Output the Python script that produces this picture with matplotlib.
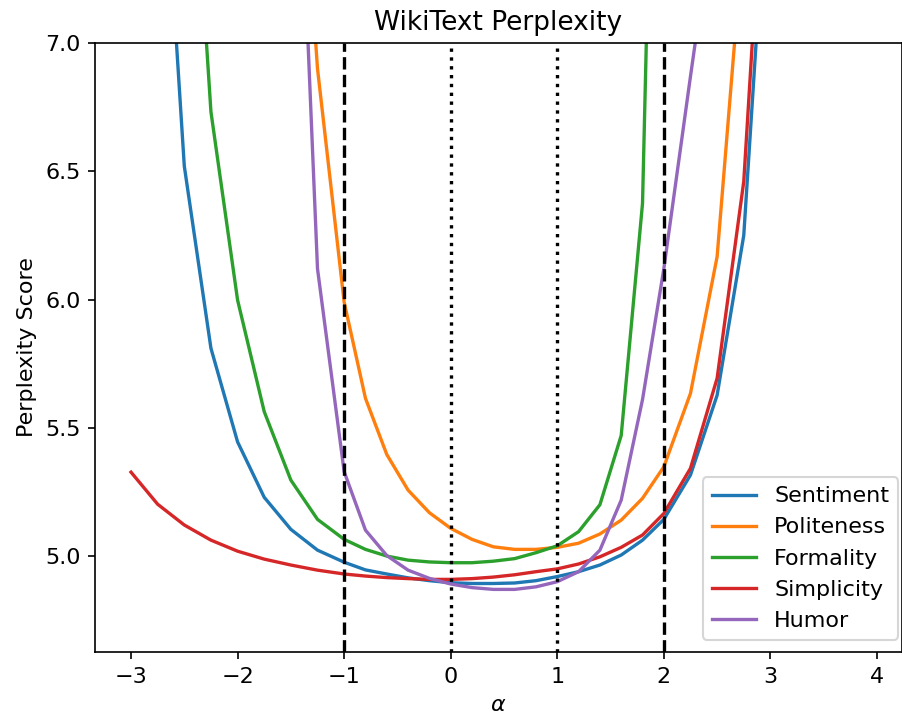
import matplotlib
matplotlib.use('Agg')
import matplotlib.pyplot as plt

# alpha steps (coarser at the ends)
alpha = [-3, -2.75, -2.5, -2.25, -2, -1.75, -1.5, -1.25,
         -1, -0.8, -0.6, -0.4, -0.2, 0, 0.2, 0.4, 0.6, 0.8, 1.0, 1.2, 1.4, 1.6, 1.8,
         2.0, 2.25, 2.5, 2.75, 3.0]

sentiment = [10.5, 8.15, 6.52, 5.81, 5.445, 5.229, 5.104, 5.023,
             4.976, 4.946, 4.93, 4.915, 4.904, 4.896, 4.893, 4.893, 4.895, 4.904, 4.92, 4.939, 4.965, 5.004, 5.062,
             5.143, 5.316, 5.627, 6.25, 7.87]
politeness = [20, 17, 14.5, 12.5, 11, 9.8, 8.4, 6.90,
              5.99, 5.615, 5.396, 5.257, 5.169, 5.108, 5.065, 5.036, 5.026, 5.026, 5.034, 5.05, 5.086, 5.14, 5.225,
              5.348, 5.634, 6.167, 7.44, 9.0]
formality = [12, 10, 8.33, 6.732, 5.998, 5.563, 5.296, 5.143,
             5.065, 5.026, 5.0, 4.984, 4.977, 4.974, 4.974, 4.98, 4.99, 5.013, 5.04, 5.095, 5.2, 5.47, 6.375,
             9.9, 13, 16, 19, 22]
simplicity = [5.327, 5.202, 5.121, 5.062, 5.019, 4.988, 4.965, 4.945,
              4.93, 4.922, 4.916, 4.912, 4.909, 4.909, 4.912, 4.918, 4.927, 4.939, 4.95, 4.969, 4.997, 5.034, 5.082,
              5.166, 5.342, 5.693, 6.46, 8.15]
humor = [18, 15, 12.5, 10.5, 9.6, 9.1, 8.6, 6.12,
         5.329, 5.101, 5.002, 4.945, 4.913, 4.891, 4.877, 4.87, 4.87, 4.88, 4.90, 4.939, 5.023, 5.218, 5.61,
         6.12, 6.87, 7.6, 8.8, 10.5]

series = [('Sentiment', sentiment), ('Politeness', politeness), ('Formality', formality),
          ('Simplicity', simplicity), ('Humor', humor)]

plt.rcParams['font.size'] = 10.7

fig = plt.figure(figsize=(903 / 150, 719 / 150), dpi=150)
ax = fig.add_axes([0.1052, 0.0932, 0.8937, 0.847])

for name, vals in series:
    ax.plot(alpha, vals, label=name, lw=1.6)

ax.axvline(-1, color='k', ls='--', lw=1.6)
ax.axvline(2, color='k', ls='--', lw=1.6)
ax.axvline(0, color='k', ls=':', lw=1.6)
ax.axvline(1, color='k', ls=':', lw=1.6)

ax.set_xlim(-3.338, 4.235)
ax.set_ylim(4.626, 7.0)
ax.set_yticks([5.0, 5.5, 6.0, 6.5, 7.0])
ax.set_title('WikiText Perplexity', fontsize=12.7)
ax.set_xlabel(r'$\alpha$')
ax.set_ylabel('Perplexity Score')
ax.legend(loc='lower right', fontsize=10.7, borderaxespad=0,
          bbox_to_anchor=(0.995, 0.02))

fig.savefig('out.png', dpi=150)
